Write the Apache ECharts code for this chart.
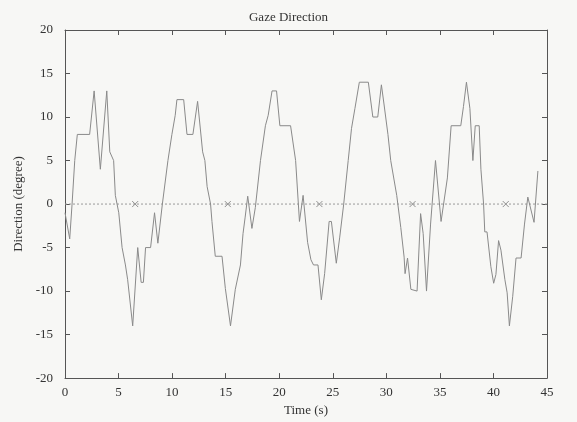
<!DOCTYPE html>
<html>
<head>
<meta charset="utf-8">
<script src="https://cdn.jsdelivr.net/npm/echarts@6/dist/echarts.min.js"></script>
<style>
  html, body { margin: 0; padding: 0; background: #f7f7f5; }
  #chart { width: 577px; height: 422px; }
</style>
</head>
<body>
<div id="chart"></div>
<script>
// Gaze direction trace (time in seconds, direction in degrees)
const timeSec = [
  0.0, 0.05, 0.44, 0.66, 0.91, 1.15, 2.3, 2.72, 3.3, 3.9,
  4.18, 4.54, 4.7, 5.02, 5.33, 5.64, 5.85, 6.32, 6.79, 7.11,
  7.32, 7.52, 7.99, 8.36, 8.67, 9.09, 9.61, 9.98, 10.29, 10.45,
  11.08, 11.39, 11.94, 12.38, 12.85, 13.06, 13.27, 13.59, 13.72, 14.03,
  14.66, 14.97, 15.45, 15.9, 16.38, 16.62, 16.82, 17.06, 17.45, 17.77,
  18.25, 18.71, 18.97, 19.33, 19.75, 20.06, 21.06, 21.53, 21.89, 22.23,
  22.65, 22.96, 23.2, 23.62, 23.93, 24.24, 24.66, 24.87, 25.33, 25.65,
  26.02, 26.44, 26.75, 27.07, 27.48, 28.32, 28.74, 29.2, 29.54, 29.78,
  30.15, 30.41, 30.97, 31.35, 31.66, 31.75, 31.98, 32.29, 32.4, 32.87,
  33.2, 33.44, 33.75, 34.13, 34.59, 35.11, 35.7, 36.05, 36.95, 37.2,
  37.48, 37.8, 38.08, 38.3, 38.67, 38.83, 39.08, 39.19, 39.4, 39.76,
  40.02, 40.23, 40.48, 40.7, 41.07, 41.28, 41.49, 41.8, 42.11, 42.58,
  42.9, 43.21, 43.37, 43.79, 44.15
];
const gazeDeg = [
  -1, -1, -4, 0, 5, 8, 8, 13, 4, 13,
  6, 5, 1, -1, -5, -7, -8.7, -14, -5, -9,
  -9, -5, -5, -1, -4.5, 0, 5, 8, 10.2, 12,
  12, 8, 8, 11.8, 6, 5, 2, 0, -2, -6,
  -6, -9.7, -14, -9.8, -7, -3.4, -1.5, 0.9, -2.8, -0.4,
  5, 9, 10.2, 13, 13, 9, 9, 5, -2, 1,
  -4.4, -6.4, -7, -7, -11, -8, -2, -2, -6.8, -3.8,
  0, 5, 8.7, 11, 14, 14, 10, 10, 13.7, 11.5,
  8, 5, 1, -2.7, -6.1, -8, -6.2, -9.8, -10, -10,
  -1.1, -3.4, -10, -2.3, 5, -2, 3, 9, 9, 11.2,
  14, 11, 5, 9, 9, 4, 0, -3.2, -3.2, -7.2,
  -9.1, -8.1, -4.2, -5.3, -8.7, -10.2, -14, -10.6, -6.2, -6.2,
  -2.3, 0.8, 0.7, -2.1, 3.8
];
// Times of the event markers drawn on the zero line
const markerTimes = [6.55, 15.2, 23.75, 32.45, 41.15];

const xTicks = { min: 0, max: 45, interval: 5 };
const yTicks = { min: -20, max: 20, interval: 5 };

const frameColor = '#555';
const textColor = '#333';
const fontFamily = '"Liberation Serif", "DejaVu Serif", serif';

const traceData = timeSec.map((t, i) => [t, gazeDeg[i]]);
const markerData = markerTimes.map(t => [t, 0]);

function axisBase(range, position, showLabel) {
  return {
    type: 'value',
    min: range.min,
    max: range.max,
    interval: range.interval,
    position: position,
    axisLine: { show: true, onZero: false, lineStyle: { color: frameColor, width: 1 } },
    axisTick: { show: true, inside: true, length: 5, lineStyle: { color: frameColor, width: 1 } },
    axisLabel: {
      show: showLabel,
      color: textColor,
      fontFamily: fontFamily,
      fontSize: 13
    },
    splitLine: { show: false }
  };
}

const chart = echarts.init(document.getElementById('chart'), null, { renderer: 'canvas' });

const xBottom = Object.assign(axisBase(xTicks, 'bottom', true), {
  name: 'Time (s)',
  nameLocation: 'middle',
  nameGap: 22,
  nameTextStyle: { color: textColor, fontFamily: fontFamily, fontSize: 13 }
});
xBottom.axisLabel.margin = 8;
const xTop = axisBase(xTicks, 'top', false);

const yLeft = Object.assign(axisBase(yTicks, 'left', true), {
  name: 'Direction (degree)',
  nameLocation: 'middle',
  nameGap: 38,
  nameRotate: 90,
  nameTextStyle: { color: textColor, fontFamily: fontFamily, fontSize: 13 }
});
yLeft.axisLabel.margin = 12;
const yRight = axisBase(yTicks, 'right', false);

chart.setOption({
  backgroundColor: '#f7f7f5',
  animation: false,
  title: {
    text: 'Gaze Direction',
    left: 'center',
    top: 6,
    textStyle: { color: textColor, fontFamily: fontFamily, fontSize: 13, fontWeight: 'normal' }
  },
  grid: { left: 65, right: 30, top: 30, bottom: 42 },
  xAxis: [xBottom, xTop],
  yAxis: [yLeft, yRight],
  series: [
    {
      name: 'zero',
      type: 'line',
      data: [[0, 0], [45, 0]],
      showSymbol: false,
      lineStyle: { color: '#9a9a9a', width: 1, type: [2, 2] },
      silent: true
    },
    {
      name: 'events',
      type: 'scatter',
      data: markerData,
      symbol: 'path://M0,0L10,10M10,0L0,10',
      symbolSize: 6,
      itemStyle: { color: 'none', borderColor: '#777', borderWidth: 1 },
      silent: true
    },
    {
      name: 'gaze',
      type: 'line',
      data: traceData,
      showSymbol: false,
      lineStyle: { color: '#8a8a8a', width: 1 },
      silent: true
    }
  ]
});
</script>
</body>
</html>
